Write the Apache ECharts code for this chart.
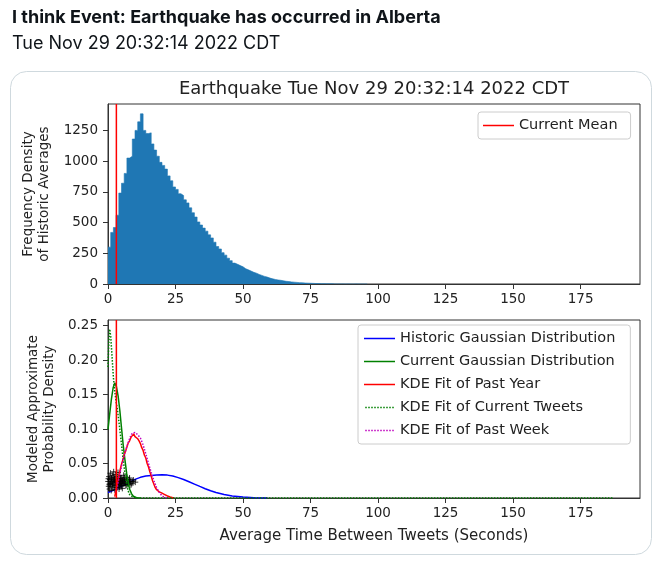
<!DOCTYPE html>
<html>
<head>
<meta charset="utf-8">
<script src="https://cdn.jsdelivr.net/npm/echarts@6/dist/echarts.min.js"></script>
<style>
  html, body { margin: 0; padding: 0; background: #fff; }
  #chart { width: 660px; height: 562px; }
</style>
</head>
<body>
<div id="chart"></div>
<script>
// tweet text
const tweetLine1 = ['I think Event: ', 'Earthquake', ' has occurred in ', 'Alberta']
const tweetLine2 = 'Tue Nov 29 20:32:14 2022 CDT'
const plotTitle = 'Earthquake Tue Nov 29 20:32:14 2022 CDT'

// axes
const X_MAX = 197
const TOP_Y_MAX = 1465
const BOTTOM_Y_MAX = 0.2583
const xTicks = [0, 25, 50, 75, 100, 125, 150, 175]
const topYTicks = [0, 250, 500, 750, 1000, 1250]
const bottomYTicks = [0, 0.05, 0.1, 0.15, 0.2, 0.25]

const CURRENT_MEAN = 3.1

// histogram of historic averages, bins of 1 s starting at 0
const BIN_WIDTH = 1
const histCounts = [
  300, 420, 460, 560, 740, 820, 900, 1025, 1040, 1180,
  1250, 1320, 1385, 1250, 1225, 1230, 1140, 1090, 1040, 990,
  965, 935, 880, 840, 790, 770, 735, 720, 685, 660,
  620, 580, 545, 505, 480, 455, 430, 400, 375, 340,
  305, 285, 255, 235, 210, 190, 170, 160, 150, 140,
  125, 115, 105, 95, 88, 78, 70, 62, 56, 48,
  42, 37, 33, 30, 26, 22, 20, 17, 15, 13,
  11, 10, 8, 7, 6, 5, 4, 4, 3, 3,
  2, 2, 2, 1, 1, 1, 1, 0, 1, 0,
  0, 1, 0, 0, 0, 0,
]

// modeled densities (x in seconds, y density)
const historicX = [0, 2, 4, 6, 8, 10, 12, 14, 16, 18, 20, 22, 24, 26, 28, 30, 32, 34, 36, 38, 40, 43, 46, 50, 54, 59]
const historicY = [0.008, 0.011, 0.015, 0.019, 0.023, 0.027, 0.030, 0.0318, 0.0328, 0.0335, 0.0337, 0.0332, 0.0318, 0.0296, 0.0268, 0.0236, 0.0202, 0.0168, 0.0135, 0.0105, 0.0079, 0.0050, 0.0029, 0.0013, 0.0005, 0.0001]

const currentGaussX = [0, 0.6, 1.25, 1.9, 2.5, 3.1, 3.75, 4.4, 5, 5.6, 6.25, 6.9, 7.5, 8.1, 8.75, 9.4, 10.6, 12]
const currentGaussY = [0.0995, 0.121, 0.143, 0.160, 0.167, 0.162, 0.148, 0.126, 0.102, 0.078, 0.056, 0.036, 0.022, 0.012, 0.006, 0.0025, 0.0005, 0]

const pastYearX = [2.5, 3, 3.5, 4, 4.5, 5, 5.5, 6, 6.5, 7, 7.5, 8, 8.5, 9, 9.5, 10, 10.5, 11, 11.5, 12, 12.5, 13, 13.5, 14, 14.5, 15, 15.5, 16, 16.5, 17, 17.5, 18, 19, 20, 21, 22, 23, 24, 24.5]
const pastYearY = [0.002, 0.012, 0.022, 0.032, 0.041, 0.049, 0.055, 0.063, 0.068, 0.074, 0.080, 0.083, 0.088, 0.090, 0.093, 0.089, 0.091, 0.086, 0.083, 0.079, 0.073, 0.069, 0.062, 0.058, 0.050, 0.045, 0.038, 0.032, 0.025, 0.020, 0.015, 0.012, 0.009, 0.007, 0.005, 0.003, 0.0015, 0.0005, 0]

const currentKdeX = [0, 0.3, 0.6, 1, 1.5, 2, 2.5, 3, 3.5, 4, 4.5, 5, 5.5, 6, 6.5, 7, 7.5, 8, 9, 10, 11, 187]
const currentKdeY = [0.19, 0.225, 0.245, 0.235, 0.205, 0.175, 0.155, 0.14, 0.128, 0.112, 0.095, 0.078, 0.06, 0.044, 0.03, 0.018, 0.01, 0.005, 0.002, 0.0005, 0, 0]

const pastWeekX = [3, 4, 5, 6, 7, 8, 8.5, 9, 10, 11, 12, 13, 14, 15, 16, 17, 18, 19, 20, 21, 22]
const pastWeekY = [0.008, 0.028, 0.046, 0.062, 0.075, 0.086, 0.091, 0.094, 0.095, 0.092, 0.087, 0.077, 0.064, 0.050, 0.037, 0.025, 0.015, 0.008, 0.003, 0.001, 0]

// individual current tweet gaps, plotted as '+' with jitter
const tweetPoints = [
  [0.1, 0.024], [0.3, 0.017], [0.4, 0.031], [0.6, 0.013], [0.7, 0.027], [0.9, 0.036],
  [1.0, 0.021], [1.2, 0.011], [1.3, 0.029], [1.5, 0.017], [1.6, 0.033], [1.8, 0.024],
  [1.9, 0.015], [2.1, 0.038], [2.2, 0.022], [2.4, 0.028], [2.5, 0.012], [2.7, 0.034],
  [2.9, 0.019], [3.0, 0.026], [3.2, 0.031], [3.3, 0.015], [3.5, 0.023], [3.7, 0.037],
  [3.8, 0.020], [4.0, 0.028], [4.2, 0.016], [4.3, 0.032], [4.5, 0.024], [4.7, 0.019],
  [4.9, 0.029], [5.1, 0.022], [5.3, 0.014], [5.5, 0.027], [5.8, 0.033], [6.0, 0.021],
  [6.3, 0.025], [6.6, 0.018], [6.9, 0.030], [7.2, 0.023], [7.5, 0.020], [7.9, 0.027],
  [8.3, 0.024], [8.8, 0.021], [9.4, 0.026], [10.1, 0.023], [0.5, 0.020], [1.1, 0.026],
  [2.0, 0.030], [2.8, 0.024], [3.6, 0.018], [4.4, 0.021], [5.2, 0.025], [6.1, 0.029],
  [0.2, 0.028], [0.8, 0.019], [1.4, 0.023], [1.7, 0.020], [2.3, 0.026], [2.6, 0.018],
  [3.1, 0.022], [3.4, 0.027], [3.9, 0.025], [4.1, 0.013], [4.6, 0.029], [4.8, 0.022],
  [5.0, 0.018], [5.4, 0.024], [5.6, 0.020], [5.9, 0.026], [6.4, 0.022], [6.7, 0.027],
  [7.0, 0.019], [7.3, 0.026], [7.7, 0.022], [8.0, 0.029], [8.5, 0.019], [9.1, 0.024],
]

const zip = (xs, ys) => xs.map((x, i) => [x, ys[i]])

const FONT = 'DejaVu Sans'
const TEXT = '#222'

// legend glyphs: a solid bar and a row of dots
const ICON_SOLID = 'path://M0,0H31V1.5H0Z'
let dots = ''
for (let x = 0; x < 30; x += 3) dots += 'M' + x + ',0h1.5v1.5h-1.5Z'
const ICON_DOTTED = 'path://' + dots

const chart = echarts.init(document.getElementById('chart'))

const xAxisBase = {
  type: 'value',
  min: 0,
  max: X_MAX,
  axisLine: {show: true, onZero: false, lineStyle: {color: '#333', width: 1}},
  axisTick: {show: true, inside: false, length: 5, customValues: xTicks, lineStyle: {color: '#333'}},
  axisLabel: {customValues: xTicks, margin: 8, fontFamily: FONT, fontSize: 13.5, color: TEXT},
  splitLine: {show: false},
}

const legendBase = {
  orient: 'vertical',
  itemWidth: 31,
  itemHeight: 1.5,
  itemGap: 8,
  itemTextGap: 10,
  selectedMode: false,
  backgroundColor: 'rgba(255,255,255,0.8)',
  borderColor: '#cccccc',
  borderWidth: 1,
  borderRadius: 3,
  textStyle: {fontFamily: FONT, fontSize: 14.5, lineHeight: 14, color: TEXT},
}

const lineSeries = (name, data, color, type, z) => ({
  name: name,
  type: 'line',
  xAxisIndex: 1,
  yAxisIndex: 1,
  data: data,
  symbol: 'none',
  z: z,
  color: color,
  lineStyle: {color: color, width: 1.5, type: type},
})

const option = {
  animation: false,
  backgroundColor: '#fff',
  title: [
    {
      text: '{n|' + tweetLine1[0] + '}{b|' + tweetLine1[1] + '}{n|' + tweetLine1[2] + '}{b|' + tweetLine1[3] + '}',
      left: 12, top: 9, padding: 0,
      textStyle: {
        rich: {
          n: {fontFamily: 'Inter', fontSize: 18, color: '#0f1419'},
          b: {fontFamily: 'Inter', fontSize: 18, fontWeight: 'bold', color: '#0f1419'},
        },
      },
    },
    {
      text: tweetLine2,
      left: 12, top: 35, padding: 0,
      textStyle: {fontFamily: 'Inter', fontSize: 18, fontWeight: 'normal', color: '#0f1419'},
    },
    {
      text: plotTitle,
      left: 374, top: 80, padding: 0, textAlign: 'center',
      textStyle: {fontFamily: FONT, fontSize: 18, fontWeight: 'normal', color: TEXT},
    },
  ],
  graphic: [
    {
      type: 'rect', z: -10, silent: true,
      shape: {x: 10.5, y: 71.5, width: 641, height: 483, r: 16},
      style: {fill: '#fff', stroke: '#cfd9de', lineWidth: 1},
    },
  ],
  grid: [
    {left: 108, top: 104, width: 532, height: 180, show: true, borderColor: '#333', borderWidth: 1, backgroundColor: '#fff'},
    {left: 108, top: 320, width: 532, height: 178, show: true, borderColor: '#333', borderWidth: 1, backgroundColor: '#fff'},
  ],
  xAxis: [
    Object.assign({gridIndex: 0}, xAxisBase),
    Object.assign({gridIndex: 1}, xAxisBase, {
      name: 'Average Time Between Tweets (Seconds)',
      nameLocation: 'middle',
      nameGap: 31,
      nameTextStyle: {fontFamily: FONT, fontSize: 15, color: TEXT},
    }),
  ],
  yAxis: [
    {
      gridIndex: 0, type: 'value', min: 0, max: TOP_Y_MAX,
      name: 'Frequency Density\nof Historic Averages',
      nameLocation: 'middle', nameGap: 55,
      nameTextStyle: {fontFamily: FONT, fontSize: 13.5, lineHeight: 16, color: TEXT},
      axisLine: {show: true, lineStyle: {color: '#333'}},
      axisTick: {show: true, length: 5, customValues: topYTicks, lineStyle: {color: '#333'}},
      axisLabel: {
        customValues: topYTicks, margin: 10, fontFamily: FONT, fontSize: 13.5, color: TEXT,
        formatter: (v) => String(v),
      },
      splitLine: {show: false},
    },
    {
      gridIndex: 1, type: 'value', min: 0, max: BOTTOM_Y_MAX,
      name: 'Modeled Approximate\nProbability Density',
      nameLocation: 'middle', nameGap: 50,
      nameTextStyle: {fontFamily: FONT, fontSize: 13.5, lineHeight: 16, color: TEXT},
      axisLine: {show: true, lineStyle: {color: '#333'}},
      axisTick: {show: true, length: 5, customValues: bottomYTicks, lineStyle: {color: '#333'}},
      axisLabel: {
        customValues: bottomYTicks, margin: 10, fontFamily: FONT, fontSize: 13.5, color: TEXT,
        formatter: (v) => v.toFixed(2),
      },
      splitLine: {show: false},
    },
  ],
  legend: [
    Object.assign({}, legendBase, {
      data: [{name: 'Current Mean', icon: ICON_SOLID}],
      left: 478, top: 112, padding: [6, 13, 6, 5],
    }),
    Object.assign({}, legendBase, {
      data: [
        {name: 'Historic Gaussian Distribution', icon: ICON_SOLID},
        {name: 'Current Gaussian Distribution', icon: ICON_SOLID},
        {name: 'KDE Fit of Past Year', icon: ICON_SOLID},
        {name: 'KDE Fit of Current Tweets', icon: ICON_DOTTED},
        {name: 'KDE Fit of Past Week', icon: ICON_DOTTED},
      ],
      left: 358, top: 325, padding: [6, 15, 6, 6],
    }),
  ],
  series: [
    {
      // histogram drawn as a filled step outline so adjacent bins join
      name: 'Historic Averages',
      type: 'line',
      xAxisIndex: 0,
      yAxisIndex: 0,
      step: 'end',
      symbol: 'none',
      data: histCounts.map((c, i) => [i * BIN_WIDTH, c]).concat([[histCounts.length * BIN_WIDTH, 0]]),
      color: '#1f77b4',
      lineStyle: {color: '#1f77b4', width: 0.6},
      areaStyle: {color: '#1f77b4', opacity: 1},
      z: 2,
    },
    {
      name: 'Current Mean',
      type: 'line',
      xAxisIndex: 0,
      yAxisIndex: 0,
      data: [[CURRENT_MEAN, 0], [CURRENT_MEAN, TOP_Y_MAX]],
      symbol: 'none',
      color: '#ff0000',
      lineStyle: {color: '#ff0000', width: 1.5},
      z: 5,
    },
    lineSeries('Historic Gaussian Distribution', zip(historicX, historicY), '#0000ff', 'solid', 2),
    {
      name: 'Current Tweets',
      type: 'scatter',
      xAxisIndex: 1,
      yAxisIndex: 1,
      data: tweetPoints,
      symbol: 'path://M0,5H10M5,0V10',
      symbolSize: 6,
      itemStyle: {color: 'none', borderColor: '#000', borderWidth: 1},
      z: 3,
    },
    lineSeries('Current Gaussian Distribution', zip(currentGaussX, currentGaussY), '#008000', 'solid', 4),
    lineSeries('KDE Fit of Past Year', zip(pastYearX, pastYearY), '#ff0000', 'solid', 4),
    lineSeries('KDE Fit of Current Tweets', zip(currentKdeX, currentKdeY), '#008000', 'dotted', 4),
    lineSeries('KDE Fit of Past Week', zip(pastWeekX, pastWeekY), '#bf00bf', 'dotted', 4),
    {
      name: 'Current Mean',
      type: 'line',
      xAxisIndex: 1,
      yAxisIndex: 1,
      data: [[CURRENT_MEAN, 0], [CURRENT_MEAN, BOTTOM_Y_MAX]],
      symbol: 'none',
      color: '#ff0000',
      lineStyle: {color: '#ff0000', width: 1.5},
      z: 5,
    },
  ],
}

chart.setOption(option)
</script>
</body>
</html>
